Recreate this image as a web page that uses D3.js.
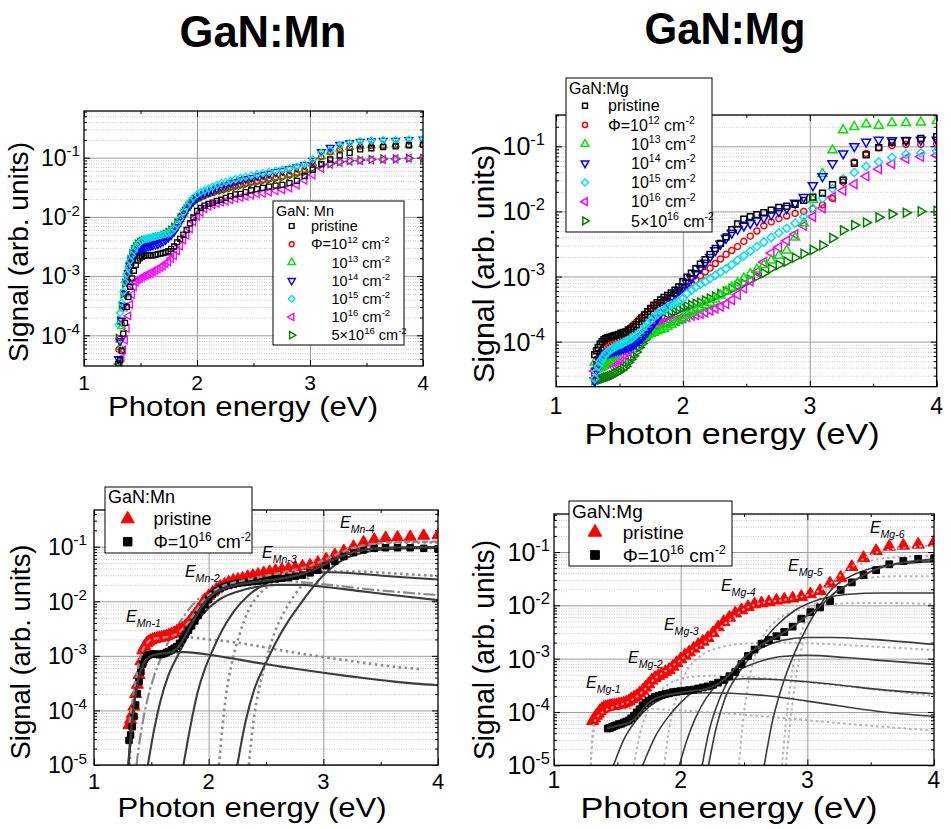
<!DOCTYPE html>
<html>
<head>
<meta charset="utf-8">
<script src="https://cdn.jsdelivr.net/npm/d3@7"></script>
<style>
body { margin: 0; background: #fff; }
svg { display: block; }
text { font-family: "Liberation Sans", Arial, sans-serif; fill: #000; }
</style>
</head>
<body>
<div id="fig"></div>
<script>
// photon energy of every measured point (eV), same grid in all four panels
var energy = [1.305,1.319,1.333,1.348,1.363,1.378,1.393,1.409,1.425,1.442,
  1.459,1.476,1.494,1.512,1.531,1.550,1.570,1.590,1.610,1.632,
  1.653,1.676,1.699,1.722,1.746,1.771,1.797,1.824,1.851,1.879,
  1.908,1.938,1.968,2.000,2.033,2.067,2.102,2.138,2.175,2.214,
  2.255,2.296,2.340,2.385,2.431,2.480,2.531,2.583,2.638,2.696,
  2.756,2.818,2.884,2.952,3.024,3.100,3.179,3.263,3.351,3.444,
  3.543,3.647,3.758,3.875,4.000];

// measured signal, given as the decade exponent read off the log axis (log10 of signal)
// top left, GaN:Mn
var mnTopPristine = [-4.48,-4.42,-4.26,-3.97,-3.79,-3.52,-3.35,-3.18,-3.04,-2.91,
  -2.81,-2.74,-2.70,-2.67,-2.66,-2.65,-2.65,-2.65,-2.65,-2.64,
  -2.63,-2.62,-2.61,-2.60,-2.58,-2.54,-2.50,-2.43,-2.37,-2.30,
  -2.22,-2.11,-2.01,-1.90,-1.85,-1.81,-1.78,-1.76,-1.73,-1.71,
  -1.68,-1.65,-1.62,-1.61,-1.58,-1.55,-1.53,-1.51,-1.49,-1.47,
  -1.46,-1.43,-1.39,-1.31,-1.20,-1.11,-1.03,-0.96,-0.92,-0.86,
  -0.84,-0.82,-0.81,-0.79,-0.78];
var mnTop1e12 = [-4.24,-4.05,-3.80,-3.52,-3.28,-3.08,-2.92,-2.78,-2.67,-2.59,
  -2.53,-2.49,-2.46,-2.44,-2.43,-2.42,-2.41,-2.40,-2.39,-2.38,
  -2.37,-2.36,-2.34,-2.32,-2.29,-2.25,-2.20,-2.13,-2.05,-1.96,
  -1.87,-1.80,-1.74,-1.70,-1.67,-1.64,-1.61,-1.59,-1.56,-1.54,
  -1.52,-1.50,-1.48,-1.46,-1.44,-1.42,-1.40,-1.38,-1.36,-1.34,
  -1.32,-1.29,-1.26,-1.21,-1.10,-0.99,-0.91,-0.86,-0.83,-0.81,
  -0.80,-0.80,-0.79,-0.79,-0.79];
var mnTop1e13 = [-4.45,-4.20,-3.85,-3.55,-3.30,-3.10,-2.93,-2.78,-2.67,-2.58,
  -2.52,-2.48,-2.45,-2.43,-2.42,-2.41,-2.40,-2.39,-2.38,-2.37,
  -2.36,-2.35,-2.33,-2.31,-2.28,-2.24,-2.19,-2.12,-2.04,-1.95,
  -1.86,-1.79,-1.73,-1.69,-1.66,-1.63,-1.60,-1.58,-1.55,-1.53,
  -1.51,-1.49,-1.47,-1.45,-1.43,-1.41,-1.39,-1.37,-1.35,-1.33,
  -1.31,-1.28,-1.25,-1.20,-1.10,-0.98,-0.90,-0.85,-0.82,-0.80,
  -0.79,-0.79,-0.78,-0.78,-0.77];
var mnTop1e14 = [-4.40,-4.10,-3.75,-3.50,-3.30,-3.10,-2.95,-2.83,-2.73,-2.66,
  -2.60,-2.57,-2.55,-2.53,-2.52,-2.51,-2.50,-2.49,-2.48,-2.47,
  -2.46,-2.44,-2.42,-2.39,-2.35,-2.31,-2.25,-2.17,-2.08,-1.98,
  -1.88,-1.80,-1.73,-1.68,-1.64,-1.61,-1.58,-1.55,-1.52,-1.49,
  -1.46,-1.43,-1.41,-1.38,-1.36,-1.34,-1.31,-1.29,-1.27,-1.24,
  -1.22,-1.19,-1.16,-1.12,-1.05,-0.90,-0.83,-0.78,-0.75,-0.73,
  -0.72,-0.71,-0.71,-0.70,-0.69];
var mnTop1e15 = [-3.82,-3.62,-3.45,-3.26,-3.10,-2.97,-2.85,-2.74,-2.65,-2.57,
  -2.51,-2.46,-2.43,-2.40,-2.38,-2.37,-2.36,-2.35,-2.34,-2.33,
  -2.32,-2.31,-2.30,-2.29,-2.28,-2.25,-2.20,-2.13,-2.03,-1.92,
  -1.82,-1.74,-1.67,-1.62,-1.58,-1.55,-1.52,-1.49,-1.46,-1.43,
  -1.41,-1.39,-1.36,-1.34,-1.32,-1.30,-1.28,-1.26,-1.24,-1.22,
  -1.20,-1.18,-1.15,-1.11,-1.03,-0.92,-0.87,-0.79,-0.75,-0.72,
  -0.71,-0.70,-0.70,-0.69,-0.68];
var mnTop1e16 = [-4.48,-4.45,-4.38,-4.25,-4.08,-3.88,-3.67,-3.48,-3.31,-3.18,
  -3.10,-3.06,-3.04,-3.02,-3.00,-2.98,-2.97,-2.95,-2.92,-2.90,
  -2.88,-2.85,-2.83,-2.79,-2.76,-2.70,-2.65,-2.57,-2.49,-2.39,
  -2.31,-2.20,-2.08,-1.99,-1.92,-1.86,-1.82,-1.79,-1.77,-1.75,
  -1.73,-1.71,-1.69,-1.67,-1.65,-1.63,-1.61,-1.60,-1.58,-1.56,
  -1.54,-1.51,-1.46,-1.38,-1.29,-1.18,-1.11,-1.08,-1.06,-1.05,
  -1.04,-1.03,-1.02,-1.01,-1.00];
var mnTop5e16 = [-4.05,-3.75,-3.50,-3.30,-3.12,-2.97,-2.83,-2.72,-2.62,-2.55,
  -2.50,-2.46,-2.43,-2.41,-2.40,-2.39,-2.38,-2.37,-2.36,-2.35,
  -2.34,-2.33,-2.31,-2.29,-2.26,-2.22,-2.17,-2.10,-2.02,-1.94,
  -1.86,-1.79,-1.74,-1.70,-1.67,-1.64,-1.61,-1.59,-1.57,-1.55,
  -1.53,-1.51,-1.49,-1.47,-1.45,-1.43,-1.41,-1.39,-1.37,-1.35,
  -1.33,-1.31,-1.28,-1.24,-1.17,-1.12,-1.10,-1.07,-1.05,-1.04,
  -1.03,-1.02,-1.02,-1.01,-1.01];

// top right, GaN:Mg
var mgTopPristine = [-4.20,-4.14,-4.09,-4.04,-4.00,-3.97,-3.95,-3.94,-3.93,-3.92,
  -3.91,-3.90,-3.89,-3.87,-3.86,-3.85,-3.82,-3.80,-3.77,-3.74,
  -3.69,-3.64,-3.59,-3.54,-3.49,-3.44,-3.40,-3.36,-3.32,-3.29,
  -3.25,-3.21,-3.16,-3.08,-3.01,-2.95,-2.88,-2.81,-2.74,-2.66,
  -2.57,-2.49,-2.39,-2.28,-2.19,-2.12,-2.08,-2.05,-2.02,-1.98,
  -1.94,-1.92,-1.89,-1.83,-1.78,-1.72,-1.59,-1.52,-1.26,-1.13,
  -1.02,-0.94,-0.91,-0.88,-0.85];
var mgTop1e12 = [-4.50,-4.35,-4.25,-4.18,-4.13,-4.10,-4.07,-4.05,-4.03,-4.01,
  -3.99,-3.97,-3.95,-3.92,-3.89,-3.86,-3.82,-3.78,-3.74,-3.70,
  -3.66,-3.62,-3.58,-3.54,-3.50,-3.46,-3.43,-3.40,-3.37,-3.34,
  -3.31,-3.27,-3.23,-3.19,-3.15,-3.10,-3.05,-2.99,-2.93,-2.87,
  -2.80,-2.73,-2.66,-2.60,-2.54,-2.46,-2.38,-2.30,-2.22,-2.16,
  -2.11,-2.07,-2.03,-2.00,-1.96,-1.90,-1.80,-1.55,-1.24,-1.11,
  -1.02,-0.99,-0.97,-0.97,-0.96];
var mgTop1e13 = [-4.32,-4.38,-4.40,-4.40,-4.38,-4.35,-4.32,-4.30,-4.27,-4.24,
  -4.21,-4.18,-4.15,-4.12,-4.09,-4.07,-4.04,-4.02,-4.00,-3.98,
  -3.96,-3.94,-3.92,-3.90,-3.88,-3.86,-3.84,-3.82,-3.80,-3.77,
  -3.74,-3.71,-3.68,-3.64,-3.60,-3.56,-3.52,-3.48,-3.44,-3.40,
  -3.35,-3.29,-3.23,-3.17,-3.10,-3.03,-2.96,-2.89,-2.82,-2.75,
  -2.68,-2.60,-2.40,-2.18,-1.82,-1.42,-1.06,-0.75,-0.70,-0.66,
  -0.68,-0.64,-0.64,-0.63,-0.61];
var mgTop1e14 = [-4.60,-4.45,-4.35,-4.28,-4.23,-4.20,-4.18,-4.17,-4.16,-4.15,
  -4.14,-4.13,-4.12,-4.11,-4.10,-4.09,-4.08,-4.06,-4.04,-4.01,
  -3.98,-3.94,-3.89,-3.84,-3.78,-3.71,-3.64,-3.56,-3.48,-3.40,
  -3.33,-3.27,-3.21,-3.16,-3.10,-3.03,-2.95,-2.87,-2.79,-2.70,
  -2.60,-2.50,-2.41,-2.33,-2.27,-2.22,-2.18,-2.14,-2.10,-2.05,
  -2.00,-1.95,-1.87,-1.78,-1.60,-1.46,-1.26,-1.11,-1.00,-0.93,
  -0.90,-0.91,-0.91,-0.90,-0.90];
var mgTop1e15 = [-4.57,-4.46,-4.38,-4.31,-4.26,-4.22,-4.18,-4.16,-4.13,-4.11,
  -4.09,-4.07,-4.05,-4.04,-4.02,-4.00,-3.98,-3.96,-3.93,-3.89,
  -3.85,-3.81,-3.76,-3.71,-3.67,-3.62,-3.58,-3.54,-3.51,-3.47,
  -3.44,-3.41,-3.39,-3.34,-3.26,-3.21,-3.16,-3.12,-3.08,-3.03,
  -2.98,-2.93,-2.88,-2.82,-2.75,-2.68,-2.61,-2.54,-2.47,-2.40,
  -2.33,-2.26,-2.18,-2.08,-1.95,-1.80,-1.65,-1.50,-1.40,-1.31,
  -1.24,-1.17,-1.12,-1.10,-1.07];
var mgTop1e16 = [-4.45,-4.42,-4.40,-4.38,-4.36,-4.35,-4.34,-4.33,-4.32,-4.31,
  -4.30,-4.28,-4.26,-4.23,-4.20,-4.16,-4.12,-4.07,-4.02,-3.97,
  -3.92,-3.88,-3.84,-3.81,-3.78,-3.76,-3.74,-3.72,-3.71,-3.70,
  -3.68,-3.67,-3.65,-3.64,-3.62,-3.60,-3.59,-3.57,-3.55,-3.52,
  -3.49,-3.46,-3.42,-3.36,-3.28,-3.18,-3.07,-2.93,-2.78,-2.64,
  -2.55,-2.45,-2.35,-2.22,-2.08,-1.95,-1.78,-1.68,-1.58,-1.46,
  -1.35,-1.27,-1.19,-1.16,-1.14];
var mgTop5e16 = [-4.59,-4.59,-4.58,-4.58,-4.57,-4.56,-4.55,-4.54,-4.53,-4.52,
  -4.50,-4.48,-4.46,-4.44,-4.41,-4.38,-4.32,-4.27,-4.22,-4.16,
  -4.09,-4.03,-3.97,-3.92,-3.86,-3.81,-3.75,-3.69,-3.64,-3.60,
  -3.56,-3.54,-3.51,-3.48,-3.46,-3.44,-3.42,-3.40,-3.37,-3.34,
  -3.31,-3.27,-3.23,-3.19,-3.15,-3.11,-3.05,-3.00,-2.95,-2.88,
  -2.82,-2.77,-2.71,-2.65,-2.59,-2.52,-2.41,-2.29,-2.21,-2.17,
  -2.09,-2.04,-2.02,-2.00,-1.99];

// bottom left, GaN:Mn
var mnBottomPristine = [-4.27,-4.17,-4.07,-3.93,-3.70,-3.53,-3.35,-3.10,-2.90,-2.82,
  -2.77,-2.74,-2.72,-2.70,-2.69,-2.68,-2.67,-2.66,-2.65,-2.64,
  -2.62,-2.60,-2.58,-2.55,-2.52,-2.49,-2.45,-2.39,-2.31,-2.24,
  -2.15,-2.06,-1.97,-1.90,-1.84,-1.78,-1.73,-1.69,-1.65,-1.62,
  -1.60,-1.58,-1.55,-1.53,-1.51,-1.48,-1.46,-1.44,-1.42,-1.40,
  -1.38,-1.36,-1.34,-1.29,-1.23,-1.15,-1.08,-1.00,-0.92,-0.87,
  -0.84,-0.83,-0.82,-0.80,-0.79];
var mnBottom1e16 = [-4.55,-4.45,-4.30,-4.11,-3.90,-3.69,-3.47,-3.29,-3.15,-3.06,
  -3.01,-2.98,-2.97,-2.97,-2.97,-2.97,-2.98,-2.97,-2.96,-2.94,
  -2.92,-2.89,-2.86,-2.83,-2.77,-2.69,-2.61,-2.53,-2.45,-2.36,
  -2.26,-2.16,-2.06,-1.96,-1.87,-1.81,-1.76,-1.73,-1.71,-1.69,
  -1.67,-1.66,-1.65,-1.64,-1.63,-1.62,-1.60,-1.59,-1.58,-1.56,
  -1.54,-1.52,-1.48,-1.43,-1.35,-1.27,-1.18,-1.11,-1.06,-1.03,
  -1.02,-1.02,-1.02,-1.03,-1.04];

// bottom right, GaN:Mg
var mgBottomPristine = [-4.17,-4.12,-4.07,-4.03,-3.98,-3.95,-3.92,-3.91,-3.90,-3.89,
  -3.88,-3.88,-3.87,-3.86,-3.85,-3.84,-3.82,-3.80,-3.76,-3.73,
  -3.70,-3.65,-3.60,-3.54,-3.48,-3.41,-3.36,-3.32,-3.29,-3.25,
  -3.21,-3.15,-3.08,-3.01,-2.94,-2.88,-2.81,-2.74,-2.68,-2.61,
  -2.52,-2.41,-2.31,-2.23,-2.15,-2.09,-2.03,-1.98,-1.96,-1.94,
  -1.91,-1.89,-1.87,-1.84,-1.79,-1.73,-1.59,-1.48,-1.28,-1.11,
  -0.98,-0.90,-0.88,-0.86,-0.82];
var mgBottom1e16 = [null,null,null,null,null,null,null,null,-4.31,-4.30,
  -4.28,-4.26,-4.25,-4.23,-4.22,-4.20,-4.18,-4.16,-4.12,-4.07,
  -4.01,-3.95,-3.88,-3.83,-3.79,-3.75,-3.72,-3.70,-3.68,-3.66,
  -3.65,-3.63,-3.62,-3.61,-3.60,-3.59,-3.58,-3.56,-3.54,-3.52,
  -3.49,-3.45,-3.40,-3.33,-3.25,-3.10,-2.95,-2.83,-2.72,-2.65,
  -2.58,-2.50,-2.40,-2.25,-2.13,-2.04,-1.92,-1.71,-1.57,-1.43,
  -1.34,-1.23,-1.17,-1.13,-1.12];

// fitted curves, [energy (eV), signal]
var mnFit1e16 = [[1.30,1e-5],[1.32,3.5e-5],[1.34,9e-5],[1.36,1.8e-4],[1.38,3.2e-4],[1.40,4.8e-4],[1.43,7e-4],[1.46,8.8e-4],[1.50,1.0e-3],[1.55,1.07e-3],[1.60,1.1e-3],[1.65,1.13e-3],[1.70,1.25e-3],[1.75,1.6e-3],[1.80,2.4e-3],[1.85,3.8e-3],[1.90,5.8e-3],[1.95,8.5e-3],[2.00,1.15e-2],[2.05,1.4e-2],[2.10,1.6e-2],[2.20,1.9e-2],[2.30,2.1e-2],[2.40,2.25e-2],[2.50,2.4e-2],[2.60,2.55e-2],[2.70,2.75e-2],[2.80,3.1e-2],[2.90,3.7e-2],[3.00,4.6e-2],[3.10,5.9e-2],[3.20,7.2e-2],[3.30,8.3e-2],[3.40,9e-2],[3.50,9.4e-2],[3.70,9.7e-2],[4.00,9.8e-2]];
var mnFitPristine = [[1.31,6e-5],[1.33,1.2e-4],[1.36,3e-4],[1.39,7e-4],[1.42,1.2e-3],[1.46,1.7e-3],[1.50,2e-3],[1.60,2.15e-3],[1.70,2.4e-3],[1.75,2.8e-3],[1.80,3.6e-3],[1.85,5e-3],[1.90,7.2e-3],[1.95,1.0e-2],[2.00,1.3e-2],[2.10,1.8e-2],[2.20,2.15e-2],[2.30,2.4e-2],[2.40,2.65e-2],[2.50,2.95e-2],[2.60,3.25e-2],[2.70,3.6e-2],[2.80,4.0e-2],[2.90,4.6e-2],[3.00,5.6e-2],[3.10,7e-2],[3.20,8.6e-2],[3.30,1.0e-1],[3.40,1.1e-1],[3.50,1.17e-1],[3.70,1.22e-1],[4.00,1.24e-1]];
var mnLevel1 = [[1.30,1e-5],[1.32,3.5e-5],[1.34,9e-5],[1.36,1.8e-4],[1.38,3.1e-4],[1.40,4.6e-4],[1.43,6.6e-4],[1.47,8.4e-4],[1.52,9.8e-4],[1.60,1.1e-3],[1.70,1.17e-3],[1.80,1.17e-3],[1.90,1.12e-3],[2.00,1.05e-3],[2.20,9e-4],[2.40,7.6e-4],[2.60,6.5e-4],[2.80,5.6e-4],[3.00,4.9e-4],[3.20,4.3e-4],[3.40,3.8e-4],[3.60,3.4e-4],[3.80,3.1e-4],[4.00,2.9e-4]];
var mnLevel1Pristine = [[1.31,1e-5],[1.33,6e-5],[1.36,2.5e-4],[1.39,6.5e-4],[1.42,1.1e-3],[1.46,1.55e-3],[1.50,1.85e-3],[1.60,2.1e-3],[1.70,2.2e-3],[1.80,2.2e-3],[2.00,2e-3],[2.20,1.8e-3],[2.40,1.55e-3],[2.60,1.3e-3],[2.80,1.1e-3],[3.00,9.5e-4],[3.20,8.3e-4],[3.40,7.2e-4],[3.60,6.4e-4],[3.85,5.7e-4]];
var mnLevel2Pristine = [[1.37,1e-5],[1.41,4e-5],[1.46,1.4e-4],[1.52,4e-4],[1.60,1.1e-3],[1.70,2.8e-3],[1.80,6e-3],[1.90,1.05e-2],[2.00,1.5e-2],[2.10,1.85e-2],[2.25,2.15e-2],[2.45,2.35e-2],[2.65,2.35e-2],[2.85,2.2e-2],[3.10,1.95e-2],[3.40,1.65e-2],[3.70,1.45e-2],[4.00,1.3e-2]];
var mnLevel2 = [[1.47,1e-5],[1.52,4e-5],[1.58,1.5e-4],[1.65,4.5e-4],[1.74,1.1e-3],[1.82,2.3e-3],[1.90,4.3e-3],[2.00,7.5e-3],[2.10,1.1e-2],[2.25,1.5e-2],[2.40,1.8e-2],[2.60,2e-2],[2.80,2e-2],[3.00,1.85e-2],[3.30,1.55e-2],[3.60,1.3e-2],[4.00,1.05e-2]];
var mnLevel3 = [[1.78,1e-5],[1.84,5e-5],[1.90,2e-4],[1.97,6e-4],[2.03,1.2e-3],[2.12,3e-3],[2.22,6.5e-3],[2.35,1.3e-2],[2.50,2.1e-2],[2.70,2.85e-2],[2.90,3.3e-2],[3.05,3.4e-2],[3.30,3.2e-2],[3.60,2.85e-2],[4.00,2.5e-2]];
var mnLevel3Pristine = [[2.09,1e-5],[2.12,5e-5],[2.15,1.8e-4],[2.20,7e-4],[2.27,2.5e-3],[2.35,7e-3],[2.45,1.4e-2],[2.60,2.3e-2],[2.80,3.1e-2],[3.00,3.5e-2],[3.30,3.5e-2],[3.60,3.25e-2],[4.00,2.9e-2]];
var mnLevel4 = [[2.25,1e-5],[2.32,6e-5],[2.40,2.5e-4],[2.50,7.5e-4],[2.60,2e-3],[2.70,4.5e-3],[2.80,9e-3],[2.90,1.7e-2],[3.00,3e-2],[3.10,4.6e-2],[3.20,6.2e-2],[3.35,7.8e-2],[3.50,8.8e-2],[3.70,9.3e-2],[4.00,9.5e-2]];
var mnLevel4Pristine = [[2.35,1e-5],[2.39,6e-5],[2.44,2.5e-4],[2.50,8e-4],[2.57,2.5e-3],[2.67,7e-3],[2.80,1.8e-2],[2.95,3.8e-2],[3.10,6.2e-2],[3.30,9.2e-2],[3.50,1.1e-1],[3.75,1.18e-1],[4.00,1.2e-1]];

var mgFit1e16 = [[1.42,4.9e-5],[1.50,5.5e-5],[1.60,6.5e-5],[1.65,8e-5],[1.70,1.1e-4],[1.75,1.5e-4],[1.80,1.8e-4],[1.90,2.1e-4],[2.00,2.3e-4],[2.10,2.5e-4],[2.20,2.7e-4],[2.30,3.4e-4],[2.40,5.5e-4],[2.50,1.05e-3],[2.60,1.6e-3],[2.70,2.2e-3],[2.80,2.9e-3],[2.90,4.2e-3],[3.00,6.5e-3],[3.10,9.5e-3],[3.20,1.6e-2],[3.30,2.3e-2],[3.40,3.2e-2],[3.50,4.3e-2],[3.60,5.3e-2],[3.70,6e-2],[3.85,6.8e-2],[4.00,7.2e-2]];
var mgFitPristine = [[1.29,1e-5],[1.30,3e-5],[1.31,5.5e-5],[1.35,8.5e-5],[1.40,1.05e-4],[1.50,1.3e-4],[1.60,1.6e-4],[1.70,2.4e-4],[1.80,4.3e-4],[1.90,6.3e-4],[2.00,9.5e-4],[2.10,1.45e-3],[2.20,2.1e-3],[2.30,3.6e-3],[2.40,5.6e-3],[2.50,8.5e-3],[2.60,1.05e-2],[2.80,1.25e-2],[3.00,1.55e-2],[3.10,1.9e-2],[3.20,2.8e-2],[3.30,4.3e-2],[3.40,6.4e-2],[3.50,8.8e-2],[3.70,1.15e-1],[4.00,1.3e-1]];
var mgLevels = [
  [[1.47,1e-5],[1.55,3e-5],[1.65,7e-5],[1.75,1.25e-4],[1.85,1.75e-4],[2.00,2.15e-4],[2.20,2.3e-4],[2.40,2.25e-4],[2.70,2e-4],[3.00,1.6e-4],[3.30,1.25e-4],[3.60,1.0e-4],[4.00,8.3e-5]],
  [[1.70,1e-5],[1.80,3.5e-5],[1.90,8e-5],[2.00,1.5e-4],[2.10,2.4e-4],[2.20,3.2e-4],[2.35,3.9e-4],[2.50,4.2e-4],[2.70,4.1e-4],[3.00,3.7e-4],[3.30,3.1e-4],[3.60,2.6e-4],[4.00,2.2e-4]],
  [[1.99,1e-5],[2.05,3e-5],[2.12,8e-5],[2.20,1.8e-4],[2.30,3.5e-4],[2.45,6e-4],[2.60,8.5e-4],[2.80,1.1e-3],[3.00,1.15e-3],[3.30,1.05e-3],[3.60,9.2e-4],[4.00,7.8e-4]],
  [[2.17,1e-5],[2.22,4e-5],[2.28,1.2e-4],[2.35,3e-4],[2.45,7e-4],[2.60,1.4e-3],[2.80,2.2e-3],[3.00,2.5e-3],[3.20,2.5e-3],[3.50,2.3e-3],[4.00,1.85e-3]],
  [[2.22,1e-5],[2.28,5e-5],[2.35,1.8e-4],[2.45,5e-4],[2.60,1.5e-3],[2.75,4e-3],[2.90,8e-3],[3.10,1.3e-2],[3.30,1.6e-2],[3.60,1.7e-2],[4.00,1.7e-2]],
  [[2.66,1e-5],[2.72,6e-5],[2.80,3e-4],[2.90,1.3e-3],[3.00,4e-3],[3.10,1e-2],[3.20,2.1e-2],[3.35,3.6e-2],[3.50,4.9e-2],[3.70,5.9e-2],[4.00,6.6e-2]]
];
var mgLevelsPristine = [
  [[1.29,1e-5],[1.31,4e-5],[1.35,8e-5],[1.42,1.05e-4],[1.55,1.15e-4],[1.70,1.15e-4],[1.90,1.1e-4],[2.20,1e-4],[2.60,8.5e-5],[3.00,7e-5],[3.50,5.5e-5],[4.00,4.5e-5]],
  [[1.63,1e-5],[1.68,4e-5],[1.75,1.2e-4],[1.85,2.6e-4],[1.95,3.8e-4],[2.10,4.6e-4],[2.30,4.8e-4],[2.60,4.4e-4],[3.00,3.6e-4],[3.50,2.7e-4],[4.00,2.0e-4]],
  [[1.87,1e-5],[1.91,5e-5],[1.97,2e-4],[2.05,6e-4],[2.15,1.1e-3],[2.30,1.6e-3],[2.50,1.9e-3],[2.80,2e-3],[3.10,1.9e-3],[3.50,1.7e-3],[4.00,1.45e-3]],
  [[2.46,1e-5],[2.49,6e-5],[2.53,3e-4],[2.58,1e-3],[2.65,2.6e-3],[2.75,5e-3],[2.90,7.8e-3],[3.10,1e-2],[3.40,1.1e-2],[3.70,1.1e-2],[4.00,1.05e-2]],
  [[2.80,1e-5],[2.83,6e-5],[2.87,4e-4],[2.93,2e-3],[3.00,6e-3],[3.10,1.4e-2],[3.25,2.5e-2],[3.45,3.2e-2],[3.70,3.5e-2],[4.00,3.5e-2]],
  [[2.83,1e-5],[2.86,5e-5],[2.90,3e-4],[2.96,1.8e-3],[3.05,8e-3],[3.15,2e-2],[3.30,4.3e-2],[3.45,6.3e-2],[3.65,7.8e-2],[4.00,8.5e-2]]
];

// level labels: name and anchor [energy, signal]
var mnLevelNames = ['Mn-1','Mn-2','Mn-3','Mn-4'];
var mnLevelAt = [[1.28,4.2e-3],[1.793,2.8e-2],[2.465,6.2e-2],[3.145,0.22]];
var mgLevelNames = ['Mg-1','Mg-2','Mg-3','Mg-4','Mg-5','Mg-6'];
var mgLevelAt = [[1.253,2.8e-4],[1.584,8.3e-4],[1.868,3.5e-3],[2.318,1.85e-2],[2.847,4.4e-2],[3.494,0.227]];

var xTicks = [1, 2, 3, 4];

var svg = d3.select('#fig').append('svg').attr('width', 951).attr('height', 829);

function rich(t, parts, size) {
  var shift = 0;
  parts.forEach(function (pt) {
    var s = pt[1] === 'sup' ? -0.42 * size : (pt[1] === 'sub' ? 0.32 * size : 0);
    t.append('tspan').attr('dy', s - shift).attr('font-size', pt[1] ? size * 0.66 : size).text(pt[0]);
    shift = s;
  });
  return t;
}

function makePanel(p) {
  var x = d3.scaleLinear().domain([1, 4]).range([p.left, p.right]);
  var y = d3.scaleLog().domain([p.yLow, p.yHigh]).range([p.bottom, p.top]);
  var w = p.right - p.left, h = p.bottom - p.top;
  var g = svg.append('g');
  var minor = [], decades = [];
  for (var n = -6; n <= 0; n++) {
    var d = Math.pow(10, n);
    if (d >= p.yLow * 0.999 && d <= p.yHigh) decades.push(d);
    for (var k = 2; k <= 9; k++) {
      var v = k * d;
      if (v > p.yLow && v < p.yHigh) minor.push(v);
    }
  }
  function grid(axis, tr, col, dash) {
    g.append('g').attr('transform', tr).call(axis).call(function (s) {
      s.select('.domain').remove();
      s.selectAll('line').attr('stroke', col).attr('stroke-width', dash ? 0.8 : 1).attr('stroke-dasharray', dash);
    });
  }
  grid(d3.axisLeft(y).tickValues(minor).tickSize(-w).tickFormat(''), 'translate(' + p.left + ',0)', '#b8b8b8', '1,1.4');
  grid(d3.axisLeft(y).tickValues(decades).tickSize(-w).tickFormat(''), 'translate(' + p.left + ',0)', '#9a9a9a', null);
  grid(d3.axisBottom(x).tickValues([2, 3]).tickSize(-h).tickFormat(''), 'translate(0,' + p.bottom + ')', '#9a9a9a', null);

  function ticks(axis, tr) {
    g.append('g').attr('transform', tr).call(axis).call(function (s) {
      s.select('.domain').remove();
      s.selectAll('line').attr('stroke', '#000');
    });
  }
  var minorX = [1.5, 2.5, 3.5];
  ticks(d3.axisBottom(x).tickValues(xTicks).tickSize(-6).tickFormat(''), 'translate(0,' + p.bottom + ')');
  ticks(d3.axisBottom(x).tickValues(minorX).tickSize(-3).tickFormat(''), 'translate(0,' + p.bottom + ')');
  ticks(d3.axisTop(x).tickValues(xTicks).tickSize(-6).tickFormat(''), 'translate(0,' + p.top + ')');
  ticks(d3.axisTop(x).tickValues(minorX).tickSize(-3).tickFormat(''), 'translate(0,' + p.top + ')');
  ticks(d3.axisLeft(y).tickValues(decades).tickSize(-6).tickFormat(''), 'translate(' + p.left + ',0)');
  ticks(d3.axisLeft(y).tickValues(minor).tickSize(-3).tickFormat(''), 'translate(' + p.left + ',0)');
  ticks(d3.axisRight(y).tickValues(decades).tickSize(-6).tickFormat(''), 'translate(' + p.right + ',0)');
  ticks(d3.axisRight(y).tickValues(minor).tickSize(-3).tickFormat(''), 'translate(' + p.right + ',0)');

  g.append('clipPath').attr('id', 'clip-' + p.key).append('rect')
    .attr('x', p.left).attr('y', p.top).attr('width', w).attr('height', h);
  var plot = g.append('g').attr('clip-path', 'url(#clip-' + p.key + ')');

  // tick labels
  var lab = svg.append('g');
  decades.forEach(function (dv) {
    var t = lab.append('text').attr('x', p.left - p.yGap).attr('y', y(dv) + p.yFont * 0.36)
      .attr('text-anchor', 'end').attr('font-size', p.yFont);
    rich(t, [['10'], [String(Math.round(Math.log10(dv))), 'sup']], p.yFont);
  });
  xTicks.forEach(function (xv) {
    lab.append('text').attr('x', x(xv)).attr('y', p.xLabelY).attr('text-anchor', 'middle')
      .attr('font-size', p.xFont).text(xv);
  });
  lab.append('text').attr('x', p.xTitle[0]).attr('y', p.xTitle[1]).attr('text-anchor', 'middle')
    .attr('font-size', p.titleFont).attr('textLength', p.xTitle[2]).attr('lengthAdjust', 'spacingAndGlyphs')
    .text('Photon energy (eV)');
  lab.append('text').attr('transform', 'translate(' + p.yTitle[0] + ',' + p.yTitle[1] + ') rotate(-90)')
    .attr('text-anchor', 'middle').attr('dy', '0.32em').attr('font-size', p.titleFont)
    .attr('textLength', p.yTitle[2]).attr('lengthAdjust', 'spacingAndGlyphs')
    .text('Signal (arb. units)');

  g.append('rect').attr('x', p.left).attr('y', p.top).attr('width', w).attr('height', h)
    .attr('fill', 'none').attr('stroke', '#000').attr('stroke-width', 1.3);
  return { x: x, y: y, plot: plot };
}

var sizeK = { circle: 0.85, square: 1, triangle: 1.05, diamond: 0.7 };
function symPath(st, size) {
  var type = st.shape === 'circle' ? d3.symbolCircle : (st.shape === 'triangle' ? d3.symbolTriangle : d3.symbolSquare);
  return d3.symbol().type(type).size(size * sizeK[st.shape])();
}

function drawMarkers(P, values, st, size, sw) {
  var pts = [];
  values.forEach(function (v, i) { if (v !== null) pts.push([energy[i], Math.pow(10, v)]); });
  var path = symPath(st, size);
  P.plot.append('g').selectAll('path').data(pts).enter().append('path')
    .attr('d', path)
    .attr('transform', function (d) { return 'translate(' + P.x(d[0]) + ',' + P.y(d[1]) + ') rotate(' + st.rot + ')'; })
    .attr('fill', st.filled ? st.color : 'none')
    .attr('stroke', st.color).attr('stroke-width', sw);
}

function drawCurve(P, pts, col, width, dash) {
  var line = d3.line().x(function (d) { return P.x(d[0]); }).y(function (d) { return P.y(d[1]); })
    .curve(d3.curveMonotoneX);
  P.plot.append('path').datum(pts).attr('d', line).attr('fill', 'none')
    .attr('stroke', col).attr('stroke-width', width).attr('stroke-dasharray', dash);
}

function drawLegend(L) {
  var g = svg.append('g');
  g.append('rect').attr('x', L.x).attr('y', L.y).attr('width', L.w).attr('height', L.h)
    .attr('fill', '#fff').attr('stroke', '#000').attr('stroke-width', 1);
  g.append('text').attr('x', L.x + 3).attr('y', L.titleY).attr('font-size', L.font).text(L.title);
  L.rows.forEach(function (r, i) {
    var cy = L.row0 + i * L.step;
    g.append('path').attr('d', symPath(r.st, L.msize))
      .attr('transform', 'translate(' + L.mx + ',' + cy + ') rotate(' + r.st.rot + ')')
      .attr('fill', r.st.filled ? r.st.color : 'none').attr('stroke', r.st.color).attr('stroke-width', L.sw);
    var t = g.append('text').attr('x', r.indent ? L.tx2 : L.tx).attr('y', cy + L.font * 0.36).attr('font-size', L.font);
    rich(t, r.parts, L.font);
  });
}

function drawLevelLabels(P, names, at) {
  names.forEach(function (nm, i) {
    var t = svg.append('text').attr('x', P.x(at[i][0])).attr('y', P.y(at[i][1]))
      .attr('font-size', 16).attr('font-style', 'italic');
    rich(t, [['E'], [nm, 'sub']], 16);
  });
}

// dose styles (top panels)
var stPristine = { color: '#000000', shape: 'square', rot: 0 };
var st1e12 = { color: '#ff0000', shape: 'circle', rot: 0 };
var st1e13 = { color: '#00e400', shape: 'triangle', rot: 0 };
var st1e14 = { color: '#0000ff', shape: 'triangle', rot: 180 };
var st1e15 = { color: '#00e2f0', shape: 'square', rot: 45 };
var st1e16 = { color: '#ff00ff', shape: 'triangle', rot: -90 };
var st5e16 = { color: '#008000', shape: 'triangle', rot: 90 };
var stRedFill = { color: '#ff0000', shape: 'triangle', rot: 0, filled: true };
var stBlackFill = { color: '#000000', shape: 'square', rot: 0, filled: true };

var doseRows = [
  { st: stPristine, parts: [['pristine']] },
  { st: st1e12, parts: [['\u03A6=10'], ['12', 'sup'], [' cm'], ['-2', 'sup']] },
  { st: st1e13, indent: true, parts: [['10'], ['13', 'sup'], [' cm'], ['-2', 'sup']] },
  { st: st1e14, indent: true, parts: [['10'], ['14', 'sup'], [' cm'], ['-2', 'sup']] },
  { st: st1e15, indent: true, parts: [['10'], ['15', 'sup'], [' cm'], ['-2', 'sup']] },
  { st: st1e16, indent: true, parts: [['10'], ['16', 'sup'], [' cm'], ['-2', 'sup']] },
  { st: st5e16, indent: true, parts: [['5\u00D710'], ['16', 'sup'], [' cm'], ['-2', 'sup']] }
];
var twoRows = [
  { st: stRedFill, parts: [['pristine']] },
  { st: stBlackFill, parts: [['\u03A6=10'], ['16', 'sup'], [' cm'], ['-2', 'sup']] }
];

// ---- titles
svg.append('text').attr('x', 263).attr('y', 47).attr('text-anchor', 'middle').attr('font-size', 45)
  .attr('font-weight', 'bold').attr('textLength', 167).attr('lengthAdjust', 'spacingAndGlyphs').text('GaN:Mn');
svg.append('text').attr('x', 725).attr('y', 44).attr('text-anchor', 'middle').attr('font-size', 45)
  .attr('font-weight', 'bold').attr('textLength', 161).attr('lengthAdjust', 'spacingAndGlyphs').text('GaN:Mg');

// ---- top left
var TL = makePanel({ key: 'tl', left: 84, right: 423, top: 111, bottom: 366, yLow: 3.03e-5, yHigh: 0.615,
  yFont: 23, xFont: 21, yGap: 4, xLabelY: 390, titleFont: 27, xTitle: [243, 416, 270], yTitle: [19, 252, 220] });
[[mnTop5e16, st5e16], [mnTop1e16, st1e16], [mnTop1e13, st1e13], [mnTop1e12, st1e12],
 [mnTop1e14, st1e14], [mnTop1e15, st1e15], [mnTopPristine, stPristine]].forEach(function (s) {
  drawMarkers(TL, s[0], s[1], 25, 1.3);
});
drawLegend({ x: 273, y: 201, w: 131, h: 144, title: 'GaN: Mn', titleY: 216, font: 14.5, row0: 226, step: 18.2,
  mx: 291.7, tx: 311, tx2: 331.5, msize: 22, sw: 1.4, rows: doseRows });

// ---- top right
var TR = makePanel({ key: 'tr', left: 556, right: 936.7, top: 115, bottom: 386.7, yLow: 2.03e-5, yHigh: 0.303,
  yFont: 25, xFont: 23, yGap: 11, xLabelY: 414, titleFont: 29, xTitle: [732, 444, 295], yTitle: [485, 264, 238] });
[[mgTop5e16, st5e16], [mgTop1e16, st1e16], [mgTop1e13, st1e13], [mgTop1e12, st1e12],
 [mgTop1e14, st1e14], [mgTop1e15, st1e15], [mgTopPristine, stPristine]].forEach(function (s) {
  drawMarkers(TR, s[0], s[1], 34, 1.5);
});
drawLegend({ x: 566, y: 78, w: 146, h: 154, title: 'GaN:Mg', titleY: 94, font: 16, row0: 105.7, step: 19.2,
  mx: 585, tx: 608, tx2: 631, msize: 24, sw: 1.5, rows: doseRows });

// ---- bottom left
var BL = makePanel({ key: 'bl', left: 94, right: 438, top: 510, bottom: 765, yLow: 1e-5, yHigh: 0.47,
  yFont: 23, xFont: 22, yGap: 7, xLabelY: 789, titleFont: 28, xTitle: [252, 817, 269], yTitle: [21, 652, 215] });
drawCurve(BL, mnLevel1Pristine, '#8c8c8c', 2.6, '2.5,3.5');
drawCurve(BL, mnLevel3Pristine, '#8c8c8c', 2.6, '2.5,3.5');
drawCurve(BL, mnLevel4Pristine, '#8c8c8c', 2.6, '2.5,3.5');
drawCurve(BL, mnLevel2Pristine, '#8c8c8c', 2.2, '12,3,2.5,3');
drawCurve(BL, mnLevel1, '#3c3c3c', 2.1, null);
drawCurve(BL, mnLevel2, '#3c3c3c', 2.1, null);
drawCurve(BL, mnLevel3, '#3c3c3c', 2.1, null);
drawCurve(BL, mnLevel4, '#3c3c3c', 2.1, null);
drawMarkers(BL, mnBottomPristine, stRedFill, 60, 1);
drawMarkers(BL, mnBottom1e16, stBlackFill, 42, 1);
drawCurve(BL, mnFitPristine, '#8c8c8c', 2.4, '6,3');
drawCurve(BL, mnFit1e16, '#3c3c3c', 2.4, null);
drawLevelLabels(BL, mnLevelNames, mnLevelAt);
drawLegend({ x: 105, y: 487, w: 147, h: 66, title: 'GaN:Mn', titleY: 503, font: 18, row0: 519, step: 22.7,
  mx: 127.7, tx: 153.5, tx2: 153.5, msize: 72, sw: 1, rows: twoRows });

// ---- bottom right
var BR = makePanel({ key: 'br', left: 554, right: 934, top: 514, bottom: 765.3, yLow: 1e-5, yHigh: 0.516,
  yFont: 25, xFont: 23, yGap: 4, xLabelY: 788, titleFont: 30, xTitle: [729, 818, 297], yTitle: [484, 650, 220] });
mgLevelsPristine.forEach(function (c) { drawCurve(BR, c, '#b4b4b4', 2, '2.5,3'); });
mgLevels.forEach(function (c) { drawCurve(BR, c, '#3c3c3c', 1.6, null); });
drawMarkers(BR, mgBottomPristine, stRedFill, 64, 1);
drawMarkers(BR, mgBottom1e16, stBlackFill, 46, 1);
drawCurve(BR, mgFitPristine, '#b4b4b4', 2, '2.5,3');
drawCurve(BR, mgFit1e16, '#3c3c3c', 2, null);
drawLevelLabels(BR, mgLevelNames, mgLevelAt);
drawLegend({ x: 569, y: 501, w: 163, h: 65, title: 'GaN:Mg', titleY: 518, font: 19, row0: 532.3, step: 22.7,
  mx: 595, tx: 622.7, tx2: 622.7, msize: 76, sw: 1, rows: twoRows });
</script>
</body>
</html>
